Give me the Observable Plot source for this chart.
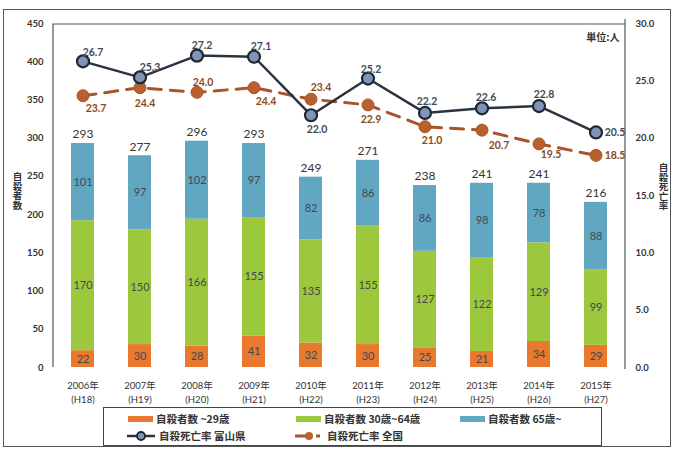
<!DOCTYPE html>
<html>
<head>
<meta charset="utf-8">
<script src="https://cdn.jsdelivr.net/npm/d3@7"></script>
<script src="https://cdn.jsdelivr.net/npm/@observablehq/plot@0.6"></script>
<style>
  html, body { margin: 0; padding: 0; background: #fff; }
  #wrap { position: relative; width: 676px; height: 450px; overflow: hidden; font-family: Lato, "Noto Sans CJK JP", sans-serif; }
  #outer { position: absolute; left: 3px; top: 9px; width: 668px; height: 438px; border: 1.5px solid #555; box-sizing: border-box; pointer-events: none; }
  #chart { position: absolute; left: 0; top: 0; }
  .vt { position: absolute; writing-mode: vertical-rl; text-orientation: upright; font-family: "Noto Sans CJK JP", sans-serif; font-weight: bold; font-size: 9.5px; line-height: 1; color: #333; }
  #legend { position: absolute; left: 103px; top: 407px; width: 499px; height: 39px; border: 1.5px solid #444; box-sizing: border-box; background: #fff; font-family: "Noto Sans CJK JP", sans-serif; font-size: 10.5px; font-weight: bold; color: #333; }
  .li { position: absolute; display: flex; align-items: center; white-space: nowrap; }
  .sw { display: inline-block; width: 25px; height: 6px; margin-right: 3px; }
  .lsw { margin-right: 3px; }
</style>
</head>
<body>
<div id="wrap">
  <div id="chart"></div>
  <div class="vt" style="left:12px; top:172px;">自殺者数</div>
  <div class="vt" style="left:658px; top:163px;">自殺死亡率</div>
  <div id="legend"></div>
  <div id="outer"></div>
</div>
<script>
// ---- data ----
const years = ["2006","2007","2008","2009","2010","2011","2012","2013","2014","2015"];
const eraLabels = ["H18","H19","H20","H21","H22","H23","H24","H25","H26","H27"];
const under29 = [22, 30, 28, 41, 32, 30, 25, 21, 34, 29];
const age30to64 = [170, 150, 166, 155, 135, 155, 127, 122, 129, 99];
const over65 = [101, 97, 102, 97, 82, 86, 86, 98, 78, 88];
const totals = [293, 277, 296, 293, 249, 271, 238, 241, 241, 216];
const rateToyama = [26.7, 25.3, 27.2, 27.1, 22.0, 25.2, 22.2, 22.6, 22.8, 20.5];
const rateNational = [23.7, 24.4, 24.0, 24.4, 23.4, 22.9, 21.0, 20.7, 19.5, 18.5];
const groupNames = ["自殺者数 ~29歳", "自殺者数 30歳~64歳", "自殺者数 65歳~"];
const seriesNames = ["自殺死亡率 富山県", "自殺死亡率 全国"];

// ---- label nudges (presentation only) ----
const toyamaDx = [10, 10, 5, 7, 6, 3, 2, 4, 5, 19];
const toyamaDy = [-9, -10, -10, -10, 14, -9, -11, -11, -11, 0];
const natDx = [13, 5, 6, 12, 10, 3, 7, 17, 12, 19];
const natDy = [13, 16, -10, 14, -12, 15, 14, 15, 11, 0];

// ---- styles ----
const colors = ["#e8792e", "#9dc73c", "#62a7c2"];
const RATE_K = 450 / 30; // right axis 0..30 mapped onto left axis 0..450

const segs = [];
years.forEach((yr, i) => {
  const vals = [under29[i], age30to64[i], over65[i]];
  let acc = 0;
  vals.forEach((v, g) => {
    segs.push({year: yr, group: groupNames[g], y1: acc, y2: acc + v, value: v});
    acc += v;
  });
});
const totalData = years.map((yr, i) => ({year: yr, total: totals[i], top: under29[i] + age30to64[i] + over65[i]}));
const toyama = years.map((yr, i) => ({year: yr, rate: rateToyama[i], dx: toyamaDx[i], dy: toyamaDy[i]}));
const national = years.map((yr, i) => ({year: yr, rate: rateNational[i], dx: natDx[i], dy: natDy[i]}));

const font = 'Lato, "Noto Sans CJK JP", sans-serif';

// frame lines (left, top, right) drawn from the plot dimensions
function frameLines(index, scales, values, dims) {
  const {marginLeft: l, marginTop: t, width: w, height: h, marginRight: r, marginBottom: b} = dims;
  const g = d3.create("svg:g").attr("fill", "none").attr("stroke", "#555").attr("stroke-width", 1.2);
  g.append("path").attr("d", `M${l},${h - b}V${t + 1}H${w - r}`);
  g.append("path").attr("d", `M${w - r},${t - 4}V${h - b + 2}`);
  return g.node();
}

function nudge(arr) {
  return (index, scales, values, dims, ctx, next) =>
    next(index, scales, {...values, x: values.x.map((x, i) => x + arr[i].dx), y: values.y.map((y, i) => y + arr[i].dy)}, dims, ctx);
}

const chart = Plot.plot({
  width: 676,
  height: 405,
  marginLeft: 53,
  marginRight: 51,
  marginTop: 23,
  marginBottom: 38,
  style: {fontFamily: font, background: "transparent", overflow: "visible"},
  x: {domain: years, paddingInner: 0.6, paddingOuter: 0.3, axis: null},
  y: {domain: [0, 450], axis: null},
  color: {domain: groupNames, range: colors},
  marks: [
    frameLines,
    Plot.axisY({anchor: "left", ticks: d3.range(0, 451, 50), tickSize: 0, tickPadding: 10, fontSize: 9.5, fontWeight: "bold", fill: "#333", label: null}),
    Plot.axisY({anchor: "right", ticks: d3.range(0, 451, 75), tickSize: 0, tickPadding: 10, fontSize: 9.5, fontWeight: "bold", fill: "#333", label: null,
      tickFormat: d => (d / RATE_K).toFixed(1)}),
    Plot.axisX({anchor: "bottom", tickSize: 0, tickPadding: 12, fontSize: 9.5, fill: "#333", lineHeight: 1.45, label: null,
      tickFormat: d => `${d}年\n(${eraLabels[years.indexOf(d)]})`}),
    // stacked bars
    Plot.barY(segs, {x: "year", y1: "y1", y2: "y2", fill: "group"}),
    Plot.text(segs, {x: "year", y: d => (d.y1 + d.y2) / 2, text: d => String(d.value), fontSize: 11, fill: "#3d4a52"}),
    Plot.text(totalData, {x: "year", y: "top", text: d => String(d.total), dy: -9, fontSize: 12, fill: "#333"}),
    // national (dashed)
    Plot.line(national, {x: "year", y: d => d.rate * RATE_K, stroke: "#a9542b", strokeWidth: 3, strokeDasharray: "13,9"}),
    Plot.dot(national, {x: "year", y: d => d.rate * RATE_K, r: 6, fill: "#b8612e", stroke: "#a9542b", strokeWidth: 1}),
    // toyama (solid)
    Plot.line(toyama, {x: "year", y: d => d.rate * RATE_K, stroke: "#2b3340", strokeWidth: 2.5}),
    Plot.dot(toyama, {x: "year", y: d => d.rate * RATE_K, r: 6, fill: "#7f95b8", stroke: "#1f2733", strokeWidth: 2.2}),
    // rate labels
    Plot.text(toyama, {x: "year", y: d => d.rate * RATE_K, text: d => d.rate.toFixed(1), fontSize: 10.5, fontWeight: "bold", fill: "#3f4a58", render: nudge(toyama)}),
    Plot.text(national, {x: "year", y: d => d.rate * RATE_K, text: d => d.rate.toFixed(1), fontSize: 10.5, fontWeight: "bold", fill: "#8a4a22", render: nudge(national)}),
    // unit note
    Plot.text(["単位:人"], {frameAnchor: "top-right", dx: -6, dy: 10, fontSize: 10, fontWeight: "bold", fill: "#333", fontFamily: '"Noto Sans CJK JP", sans-serif'})
  ]
});
document.getElementById("chart").appendChild(chart);

// ---- legend ----
const legend = document.getElementById("legend");
const items = [
  {left: 24, top: 3, kind: "bar", color: colors[0], label: groupNames[0]},
  {left: 192, top: 3, kind: "bar", color: colors[1], label: groupNames[1]},
  {left: 356, top: 3, kind: "bar", color: colors[2], label: groupNames[2]},
  {left: 22, top: 20, kind: "solid", label: seriesNames[0]},
  {left: 190, top: 20, kind: "dash", label: seriesNames[1]}
];
items.forEach(it => {
  const d = document.createElement("div");
  d.className = "li";
  d.style.left = it.left + "px";
  d.style.top = it.top + "px";
  let sw;
  if (it.kind === "bar") {
    sw = `<span class="sw" style="background:${it.color}"></span>`;
  } else if (it.kind === "solid") {
    sw = `<svg class="lsw" width="30" height="12"><line x1="1" y1="6" x2="29" y2="6" stroke="#2b3340" stroke-width="2.5"/><circle cx="15" cy="6" r="4" fill="#7f95b8" stroke="#1f2733" stroke-width="1.8"/></svg>`;
  } else {
    sw = `<svg class="lsw" width="30" height="12"><line x1="1" y1="6" x2="14" y2="6" stroke="#a9542b" stroke-width="3"/><line x1="22" y1="6" x2="26" y2="6" stroke="#a9542b" stroke-width="3"/><circle cx="15" cy="6" r="4" fill="#b8612e"/></svg>`;
  }
  d.innerHTML = sw + `<span>${it.label}</span>`;
  legend.appendChild(d);
});
</script>
</body>
</html>
